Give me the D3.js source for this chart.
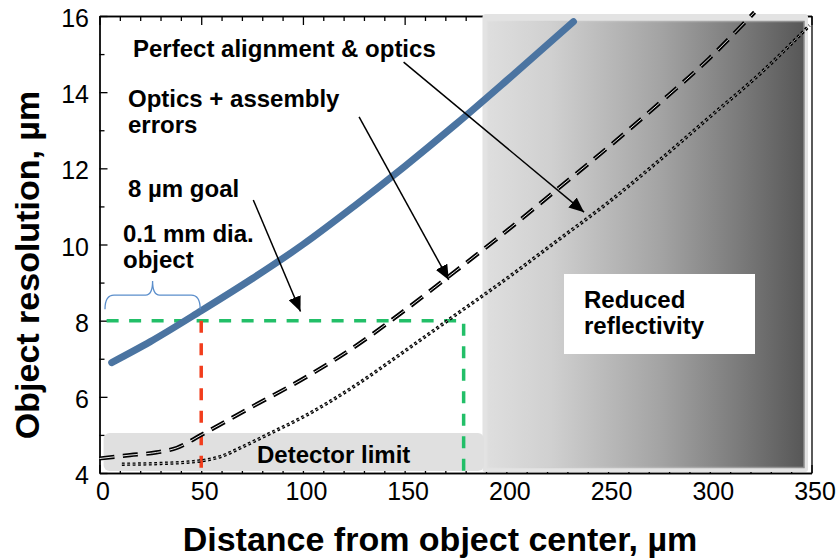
<!DOCTYPE html>
<html>
<head>
<meta charset="utf-8">
<script src="https://cdn.jsdelivr.net/npm/d3@7"></script>
<style>
  body { margin: 0; background: #fff; }
  svg { display: block; }
  text { font-family: "Liberation Sans", Arial, Helvetica, sans-serif; }
</style>
</head>
<body>
<svg id="chart" width="840" height="560"></svg>
<script>
// ---- Data -------------------------------------------------------------
const xTickValues = [0, 50, 100, 150, 200, 250, 300, 350];
const yTickValues = [4, 6, 8, 10, 12, 14, 16];

// [distance from object center (µm), object resolution (µm)]
const objectSizeCurve = [
  [6, 6.9], [25, 7.45], [50, 8.26], [75, 9.1], [100, 10.0], [125, 11.0],
  [150, 12.05], [175, 13.15], [200, 14.3], [233, 15.85]
];
const assemblyErrorCurve = [
  [0, 4.38], [15, 4.47], [28, 4.54], [38, 4.66], [50, 5.0], [75, 5.74],
  [100, 6.47], [125, 7.3], [150, 8.27], [175, 9.3], [200, 10.35],
  [225, 11.45], [250, 12.55], [275, 13.7], [300, 14.9], [322, 16.1]
];
const perfectOpticsCurve = [
  [11, 4.23], [30, 4.25], [50, 4.32], [60, 4.44], [70, 4.68], [85, 5.07],
  [100, 5.47], [125, 6.27], [150, 7.2], [175, 8.15], [200, 9.1], [225, 10.1],
  [250, 11.1], [275, 12.2], [300, 13.35], [325, 14.5], [349, 15.75]
];

const goalResolution = 8;       // µm
const goalDistance = 179;       // where the perfect-optics curve meets the goal
const objectRadius = 50;        // 0.1 mm diameter object
const detectorLimit = [4.05, 5.05];
const detectorSpan = [2, 189];
const reflectivitySpan = [189, 350];

// ---- Scales -----------------------------------------------------------
const svg = d3.select("#chart");
const x = d3.scaleLinear().domain([0, 350]).range([99.5, 811.5]);
const y = d3.scaleLinear().domain([4, 16]).range([473, 16]);

const defs = svg.append("defs");

const grad = defs.append("linearGradient").attr("id", "reflGrad")
  .attr("x1", "0%").attr("x2", "100%").attr("y1", "0%").attr("y2", "0%");
[[0, "#dedede"], [0.2, "#d0d0d0"], [0.55, "#a3a3a3"], [0.8, "#7a7a7a"], [1, "#575757"]]
  .forEach(([o, c]) => grad.append("stop").attr("offset", o).attr("stop-color", c));

const edgeGrad = defs.append("linearGradient").attr("id", "edgeGrad")
  .attr("x1", "0%").attr("x2", "100%").attr("y1", "0%").attr("y2", "0%");
[[0, "#e0e0e0"], [1, "#8c8c8c"]]
  .forEach(([o, c]) => edgeGrad.append("stop").attr("offset", o).attr("stop-color", c));

defs.append("marker").attr("id", "arrowHead")
  .attr("markerUnits", "userSpaceOnUse")
  .attr("markerWidth", 16).attr("markerHeight", 13)
  .attr("refX", 15).attr("refY", 6.5).attr("orient", "auto")
  .append("path").attr("d", "M0,0 L15,6.5 L0,13 Z").attr("fill", "#000");

// ---- Axes (ticks point inward) ---------------------------------------
const tickFont = 25;
const minorX = d3.range(0, 351, 10).filter(v => v % 50 !== 0);
const minorY = d3.range(5, 16, 2);

const axes = svg.append("g");

const gLeft = axes.append("g").attr("transform", `translate(${x(0)},0)`)
  .call(d3.axisLeft(y).tickValues(yTickValues).tickSize(-8).tickSizeOuter(0).tickPadding(10.5));
gLeft.selectAll("text").attr("font-size", tickFont).attr("dy", "0.42em");
axes.append("g").attr("transform", `translate(${x(0)},0)`)
  .call(d3.axisLeft(y).tickValues(minorY).tickSize(-5).tickSizeOuter(0).tickFormat(""));

const gBottom = axes.append("g").attr("transform", `translate(0,${y(4)})`)
  .call(d3.axisBottom(x).tickValues(xTickValues).tickSize(-8).tickSizeOuter(0).tickPadding(9.3));
gBottom.selectAll("text").attr("font-size", tickFont).attr("dx", 3);
axes.append("g").attr("transform", `translate(0,${y(4)})`)
  .call(d3.axisBottom(x).tickValues(minorX).tickSize(-4).tickSizeOuter(0).tickFormat(""));

axes.append("g").attr("transform", `translate(0,${y(16)})`)
  .call(d3.axisTop(x).tickValues(xTickValues).tickSize(-9).tickSizeOuter(0).tickFormat(""));
axes.append("g").attr("transform", `translate(0,${y(16)})`)
  .call(d3.axisTop(x).tickValues(minorX).tickSize(-5).tickSizeOuter(0).tickFormat(""));

axes.append("g").attr("transform", `translate(${x(350)},0)`)
  .call(d3.axisRight(y).tickValues([]).tickSizeOuter(0));

axes.selectAll("path.domain, .tick line").attr("stroke", "#000").attr("stroke-width", 1.3);
axes.selectAll("text").attr("fill", "#000").attr("font-family", "'Liberation Sans', Arial, sans-serif");

// ---- Reduced reflectivity region ------------------------------------
const rx0 = x(reflectivitySpan[0]) - 1.5, rx1 = x(reflectivitySpan[1]) - 3.5;
const ry0 = y(16) - 2, ry1 = y(4) - 1;
svg.append("rect").attr("x", rx0).attr("y", ry0).attr("width", rx1 - rx0).attr("height", ry1 - ry0)
  .attr("rx", 3).attr("fill", "#e3e3e3");
svg.append("rect").attr("x", rx0 + 5).attr("y", ry0 + 7.5)
  .attr("width", rx1 - rx0 - 9).attr("height", ry1 - ry0 - 12)
  .attr("fill", "url(#reflGrad)").attr("stroke", "url(#edgeGrad)").attr("stroke-width", 1.5);

svg.append("rect").attr("x", 564).attr("y", 274).attr("width", 191).attr("height", 80).attr("fill", "#fff");

// ---- Detector limit band --------------------------------------------
svg.append("rect")
  .attr("x", x(detectorSpan[0])).attr("y", y(detectorLimit[1]))
  .attr("width", x(detectorSpan[1]) - x(detectorSpan[0]))
  .attr("height", y(detectorLimit[0]) - y(detectorLimit[1]))
  .attr("rx", 6).attr("fill", "#e0e0e0");

// ---- Goal guide lines -------------------------------------------------
const guide = (color, pts) => svg.append("path")
  .attr("d", d3.line()(pts.map(([a, b]) => [x(a), y(b)])))
  .attr("fill", "none").attr("stroke", color).attr("stroke-width", 3.5)
  .attr("stroke-dasharray", "12,10.5");

guide("#22bf68", [[3.5, goalResolution], [goalDistance, goalResolution], [goalDistance, 4]]);
guide("#f23d1c", [[objectRadius, goalResolution], [objectRadius, 4]]);

// ---- Curves -------------------------------------------------------------
const line = d3.line().x(d => x(d[0])).y(d => y(d[1])).curve(d3.curveMonotoneX);

svg.append("path").datum(objectSizeCurve).attr("d", line)
  .attr("fill", "none").attr("stroke", "#4b74a1").attr("stroke-width", 7)
  .attr("stroke-linecap", "round");

// double-stroked dashed curve
svg.append("path").datum(assemblyErrorCurve).attr("d", line)
  .attr("fill", "none").attr("stroke", "#000").attr("stroke-width", 4.2)
  .attr("stroke-dasharray", "15,8.5");
svg.append("path").datum(assemblyErrorCurve).attr("d", line)
  .attr("fill", "none").attr("stroke", "#fff").attr("stroke-width", 0.9)
  .attr("stroke-dasharray", "15,8.5");

// double-stroked dotted curve
svg.append("path").datum(perfectOpticsCurve).attr("d", line)
  .attr("fill", "none").attr("stroke", "#000").attr("stroke-width", 3.4)
  .attr("stroke-dasharray", "2.8,2.6");
svg.append("path").datum(perfectOpticsCurve).attr("d", line)
  .attr("fill", "none").attr("stroke", "#fff").attr("stroke-width", 0.6)
  .attr("stroke-dasharray", "2.8,2.6");

// ---- Brace marking the object diameter ------------------------------
const bx0 = x(2.7), bx1 = x(49.5), bxm = (bx0 + bx1) / 2;
const byEnd = y(8.3), byBar = y(8.67), byTip = y(9.04);
svg.append("path")
  .attr("d", `M${bx0},${byEnd} Q${bx0},${byBar} ${bx0 + 9},${byBar} L${bxm - 7},${byBar}
    Q${bxm},${byBar} ${bxm},${byTip} Q${bxm},${byBar} ${bxm + 7},${byBar}
    L${bx1 - 9},${byBar} Q${bx1},${byBar} ${bx1},${byEnd}`)
  .attr("fill", "none").attr("stroke", "#5b8ecb").attr("stroke-width", 1.3);

// ---- Arrows -----------------------------------------------------------
const arrows = [
  [[149.5, 14.79], [238.2, 10.85]],
  [[127.6, 13.35], [171.7, 9.07]],
  [[75.6, 11.17], [98.8, 8.24]]
];
arrows.forEach(([s, e]) => svg.append("line")
  .attr("x1", x(s[0])).attr("y1", y(s[1])).attr("x2", x(e[0])).attr("y2", y(e[1]))
  .attr("stroke", "#000").attr("stroke-width", 1.5).attr("marker-end", "url(#arrowHead)"));

// ---- Annotation text --------------------------------------------------
const labels = [
  ["Perfect alignment & optics", 133, 57],
  ["Optics + assembly", 128, 107],
  ["errors", 128, 133],
  ["8 µm goal", 128, 197],
  ["0.1 mm dia.", 123, 242],
  ["object", 123, 268],
  ["Detector limit", 257, 463],
  ["Reduced", 584, 308],
  ["reflectivity", 584, 334]
];
svg.append("g").selectAll("text").data(labels).join("text")
  .attr("x", d => d[1]).attr("y", d => d[2])
  .attr("font-size", 24).attr("font-weight", "bold").attr("fill", "#000")
  .text(d => d[0]);

// ---- Axis titles ------------------------------------------------------
svg.append("text")
  .attr("transform", "translate(39,265) rotate(-90)")
  .attr("text-anchor", "middle").attr("font-size", 34).attr("font-weight", "bold")
  .text("Object resolution, µm");
svg.append("text")
  .attr("x", 440).attr("y", 551)
  .attr("text-anchor", "middle").attr("font-size", 34).attr("font-weight", "bold")
  .text("Distance from object center, µm");
</script>
</body>
</html>
